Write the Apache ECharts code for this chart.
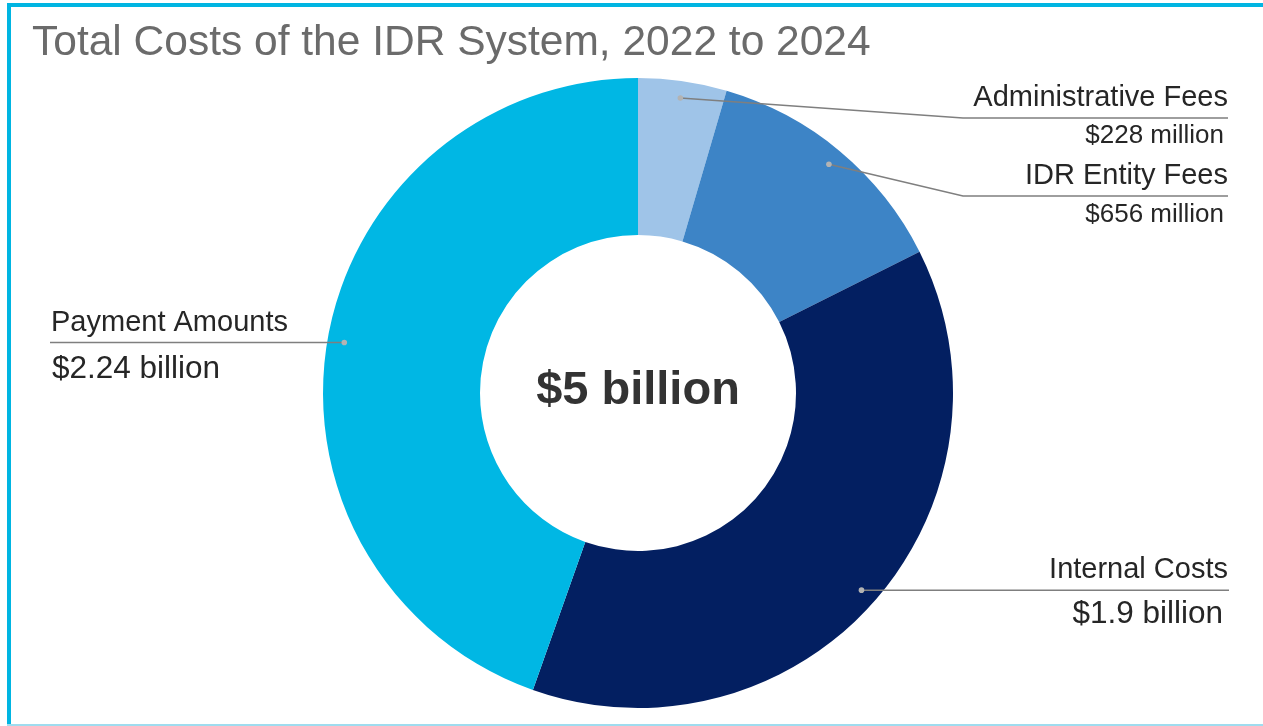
<!DOCTYPE html>
<html>
<head>
<meta charset="utf-8">
<title>Total Costs of the IDR System, 2022 to 2024</title>
<script src="https://cdn.jsdelivr.net/npm/echarts@6/dist/echarts.min.js"></script>
<style>
  html, body { margin: 0; padding: 0; background: #ffffff; }
  #chart { width: 1263px; height: 726px; }
</style>
</head>
<body>
<div id="chart"></div>
<script>
// Cost components, $ millions
const categories = ['Administrative Fees', 'IDR Entity Fees', 'Internal Costs', 'Payment Amounts'];
const costs = [228, 656, 1900, 2240];
const valueLabels = ['$228 million', '$656 million', '$1.9 billion', '$2.24 billion'];
const totalLabel = '$5 billion';
const titleText = 'Total Costs of the IDR System, 2022 to 2024';

const sliceColors = ['#9fc4e8', '#3d84c6', '#031f61', '#00b7e4'];

// Donut geometry (px)
const CX = 638, CY = 393, R_IN = 158, R_OUT = 315, R_DOT = 298;

// Callout layout: where each leader line bends and ends
const callouts = [
  { side: 'right', lineY: 118, elbowX: 963, endX: 1228, textX: 1228, valueX: 1224, valueSize: 26, valueDy: 18 },
  { side: 'right', lineY: 196, elbowX: 963, endX: 1228, textX: 1228, valueX: 1224, valueSize: 26, valueDy: 19 },
  { side: 'right', lineY: null, elbowX: null, endX: 1229, textX: 1228, valueX: 1223, valueSize: 31.5, valueDy: 24 },
  { side: 'left',  lineY: null, elbowX: null, endX: 50,   textX: 51,   valueX: 52,   valueSize: 31.5, valueDy: 27 }
];

const FONT = '"Liberation Sans", Arial, Helvetica, sans-serif';
const TEXT_COLOR = '#262626';
const LINE_COLOR = '#7f7f7f';

const chart = echarts.init(document.getElementById('chart'), null, { renderer: 'canvas' });

// Leader lines, dots and callout text, placed from the slice mid-angles
const total = costs.reduce((a, b) => a + b, 0);
const graphics = [];
let acc = 0;
costs.forEach((v, i) => {
  const mid = (acc + v / 2) / total * Math.PI * 2; // clockwise from 12 o'clock
  acc += v;
  const dx = CX + R_DOT * Math.sin(mid);
  const dy = CY - R_DOT * Math.cos(mid);
  const c = callouts[i];
  const ly = c.lineY == null ? dy : c.lineY;
  const pts = [[dx, dy]];
  if (c.elbowX != null) pts.push([c.elbowX, ly]);
  pts.push([c.endX, ly]);
  graphics.push({
    type: 'polyline', silent: true, z: 10,
    shape: { points: pts },
    style: { stroke: LINE_COLOR, lineWidth: 1.5, fill: null }
  });
  graphics.push({
    type: 'circle', silent: true, z: 11,
    shape: { cx: dx, cy: dy, r: 2.8 },
    style: { fill: '#b3b3b3' }
  });
  const align = c.side === 'right' ? 'right' : 'left';
  graphics.push({
    type: 'text', silent: true, z: 12,
    style: {
      text: categories[i], x: c.textX, y: ly - 20,
      font: 'normal 29px ' + FONT, fill: TEXT_COLOR,
      align: align, verticalAlign: 'middle',
      textAlign: align, textVerticalAlign: 'middle'
    }
  });
  graphics.push({
    type: 'text', silent: true, z: 12,
    style: {
      text: valueLabels[i], x: c.valueX, y: ly + c.valueDy,
      font: 'normal ' + c.valueSize + 'px ' + FONT, fill: TEXT_COLOR,
      align: align, verticalAlign: 'middle',
      textAlign: align, textVerticalAlign: 'middle'
    }
  });
});

// Total in the hole
graphics.push({
  type: 'text', silent: true, z: 12,
  style: {
    text: totalLabel, x: CX, y: 391,
    font: 'bold 47px ' + FONT, fill: '#333333',
    align: 'center', verticalAlign: 'middle',
    textAlign: 'center', textVerticalAlign: 'middle'
  }
});

// Frame
graphics.push({ type: 'rect', silent: true, z: 1, shape: { x: 7, y: 3, width: 1256, height: 4 }, style: { fill: '#00b5e2' } });
graphics.push({ type: 'rect', silent: true, z: 1, shape: { x: 7, y: 3, width: 4, height: 723 }, style: { fill: '#00b5e2' } });
graphics.push({ type: 'rect', silent: true, z: 1, shape: { x: 7, y: 724, width: 1256, height: 2 }, style: { fill: '#9fdcef' } });

chart.setOption({
  animation: false,
  backgroundColor: '#ffffff',
  title: {
    text: titleText,
    left: 27,
    top: 17,
    textStyle: { fontFamily: FONT, fontSize: 42.5, fontWeight: 'normal', color: '#6b6b6b' }
  },
  series: [{
    type: 'pie',
    center: [CX, CY],
    radius: [R_IN, R_OUT],
    startAngle: 90,
    clockwise: true,
    silent: true,
    label: { show: false },
    labelLine: { show: false },
    itemStyle: { borderWidth: 0 },
    data: categories.map((name, i) => ({
      name: name,
      value: costs[i],
      itemStyle: { color: sliceColors[i] }
    }))
  }],
  graphic: graphics
});
</script>
</body>
</html>
